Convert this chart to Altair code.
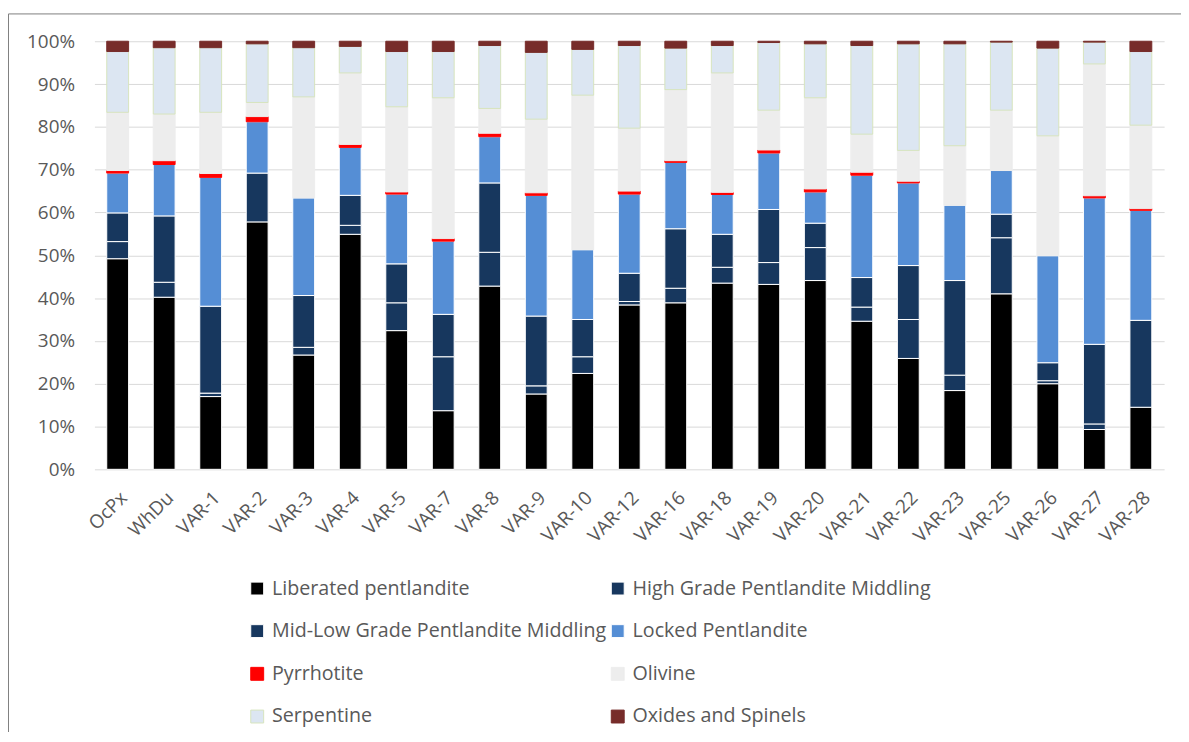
import altair as alt
import pandas as pd

samples = ["OcPx", "WhDu", "VAR-1", "VAR-2", "VAR-3", "VAR-4", "VAR-5", "VAR-7", "VAR-8",
           "VAR-9", "VAR-10", "VAR-12", "VAR-16", "VAR-18", "VAR-19", "VAR-20", "VAR-21",
           "VAR-22", "VAR-23", "VAR-25", "VAR-26", "VAR-27", "VAR-28"]

series = ["Liberated pentlandite", "High Grade Pentlandite Middling",
          "Mid-Low Grade Pentlandite Middling", "Locked Pentlandite", "Pyrrhotite",
          "Olivine", "Serpentine", "Oxides and Spinels"]

liberated = [49.2, 40.2, 17.0, 57.8, 26.7, 54.9, 32.4, 13.7, 42.8, 17.6, 22.4, 38.4,
             38.9, 43.5, 43.2, 44.1, 34.6, 25.9, 18.4, 41.0, 20.0, 9.3, 14.5]
high_grade = [4.0, 3.5, 0.8, 11.4, 1.8, 2.1, 6.5, 12.6, 7.9, 1.9, 3.9, 0.8,
              3.4, 3.7, 5.1, 7.7, 3.3, 9.1, 3.6, 13.1, 0.7, 1.3, 20.3]
mid_low = [6.7, 15.5, 20.3, 0.0, 12.1, 7.0, 9.1, 9.9, 16.2, 16.3, 8.7, 6.6,
           13.9, 7.7, 12.4, 5.7, 6.9, 12.6, 22.1, 5.5, 4.2, 18.6, 0.0]
locked = [9.3, 12.0, 30.1, 12.0, 22.8, 11.2, 16.3, 17.1, 10.8, 28.2, 16.3, 18.5,
          15.5, 9.3, 13.2, 7.3, 23.9, 19.3, 17.6, 10.2, 25.0, 34.2, 25.7]
pyrrhotite = [0.6, 0.9, 0.9, 1.2, 0.0, 0.7, 0.5, 0.6, 0.8, 0.6, 0.0, 0.7,
              0.4, 0.5, 0.7, 0.7, 0.7, 0.4, 0.0, 0.0, 0.0, 0.5, 0.4]
olivine = [13.6, 10.9, 14.3, 3.3, 23.6, 16.7, 19.9, 32.9, 5.8, 17.2, 36.1, 14.7,
           16.6, 27.9, 9.3, 21.3, 8.9, 7.2, 13.9, 14.1, 28.0, 30.8, 19.5]
serpentine = [14.2, 15.5, 15.1, 13.7, 11.5, 6.2, 12.9, 10.8, 14.7, 15.6, 10.7, 19.3,
              9.7, 6.4, 15.8, 12.6, 20.7, 24.9, 23.8, 15.9, 20.5, 5.1, 17.2]
oxides = [2.4, 1.5, 1.5, 0.6, 1.5, 1.2, 2.4, 2.4, 1.0, 2.6, 1.9, 1.0,
          1.6, 1.0, 0.3, 0.6, 1.0, 0.6, 0.6, 0.2, 1.6, 0.2, 2.4]

fills = ["#000000", "#17375E", "#17375E", "#558ED5", "#FF0000", "#EDEDED", "#DCE6F2", "#772C2A"]
strokes = ["#FFFFFF", "#FFFFFF", "#FFFFFF", "#FFFFFF", "#FF0000", "#EDEDED", "#D7E4BD", "#772C2A"]

all_values = [liberated, high_grade, mid_low, locked, pyrrhotite, olivine, serpentine, oxides]
rows = []
for i, s in enumerate(samples):
    for k, (name, vals) in enumerate(zip(series, all_values)):
        if vals[i] > 0:
            rows.append({"sample": s, "mineral": name, "pct": vals[i], "k": k})
df = pd.DataFrame(rows)

FONT = "Open Sans"
GREY = "#595959"

legend = alt.Legend(
    title=None, orient="none", legendX=154, legendY=541, columns=2, direction="horizontal",
    symbolType="square", symbolSize=169, symbolStrokeWidth=1,
    labelFont=FONT, labelFontSize=19.8, labelColor=GREY, labelOffset=5,
    labelLimit=500, rowPadding=22, columnPadding=1, padding=0,
)

bars = alt.Chart(df).mark_bar(strokeWidth=1).encode(
    x=alt.X("sample:N", sort=samples,
            scale=alt.Scale(paddingInner=0.53, paddingOuter=0.265),
            axis=alt.Axis(title=None, labelAngle=-45, labelAlign="right", labelBaseline="top",
                          labelPadding=19, ticks=False, domain=False,
                          labelFont=FONT, labelFontSize=19, labelColor=GREY)),
    y=alt.Y("pct:Q", stack="zero",
            scale=alt.Scale(domain=[0, 100], nice=False),
            axis=alt.Axis(title=None, values=list(range(0, 101, 10)),
                          labelExpr="datum.value + '%'", grid=True, gridColor="#D9D9D9",
                          domain=False, ticks=False, tickSize=0, labelPadding=20,
                          labelFont=FONT, labelFontSize=19, labelColor=GREY)),
    fill=alt.Fill("mineral:N", scale=alt.Scale(domain=series, range=fills), legend=legend),
    stroke=alt.Stroke("mineral:N", scale=alt.Scale(domain=series, range=strokes), legend=legend),
    order=alt.Order("k:Q", sort="ascending"),
)

frame_data = alt.Data(values=[{"a": 1}])
frame_top = alt.Chart(frame_data).mark_rule(color="#7F7F7F", strokeWidth=1).encode(
    x=alt.value(-86.5), x2=alt.value(1110), y=alt.value(-27.5))
frame_left = alt.Chart(frame_data).mark_rule(color="#7F7F7F", strokeWidth=1).encode(
    x=alt.value(-86.5), y=alt.value(-27.5), y2=alt.value(720))

chart = alt.layer(bars, frame_top, frame_left).properties(
    width=1077, height=431,
    autosize=alt.AutoSizeParams(type="none"),
    padding={"left": 87, "top": 31, "right": 17, "bottom": 262},
).configure_view(stroke=None)

chart.save("out.html", embed_options={"renderer": "svg", "actions": False})
